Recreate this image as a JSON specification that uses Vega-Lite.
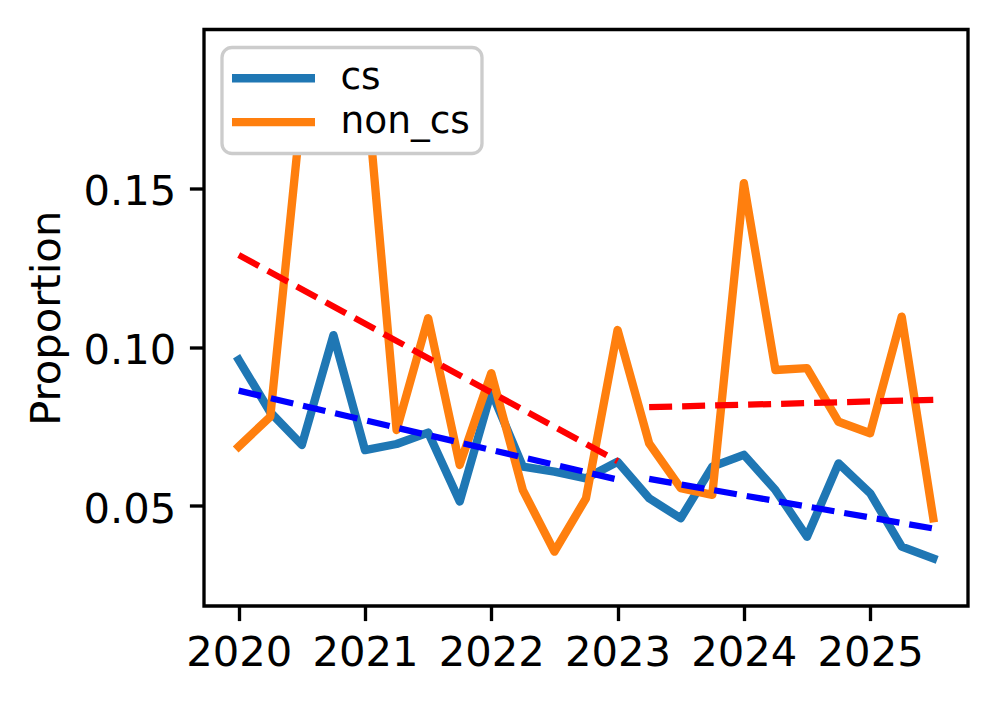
{
  "$schema": "https://vega.github.io/schema/vega-lite/v6.json",
  "autosize": {"type": "none"},
  "width": 764,
  "height": 576.5,
  "padding": {"left": 204, "top": 29.5, "right": 30, "bottom": 98},
  "background": "white",
  "datasets": {
    "series": [
      {"t": 2020.0, "series": "cs", "value": 0.0960},
      {"t": 2020.25, "series": "cs", "value": 0.0795},
      {"t": 2020.5, "series": "cs", "value": 0.0692},
      {"t": 2020.75, "series": "cs", "value": 0.1038},
      {"t": 2021.0, "series": "cs", "value": 0.0676},
      {"t": 2021.25, "series": "cs", "value": 0.0695},
      {"t": 2021.5, "series": "cs", "value": 0.0731},
      {"t": 2021.75, "series": "cs", "value": 0.0514},
      {"t": 2022.0, "series": "cs", "value": 0.0860},
      {"t": 2022.25, "series": "cs", "value": 0.0624},
      {"t": 2022.5, "series": "cs", "value": 0.0608},
      {"t": 2022.75, "series": "cs", "value": 0.0587},
      {"t": 2023.0, "series": "cs", "value": 0.0639},
      {"t": 2023.25, "series": "cs", "value": 0.0524},
      {"t": 2023.5, "series": "cs", "value": 0.0461},
      {"t": 2023.75, "series": "cs", "value": 0.0624},
      {"t": 2024.0, "series": "cs", "value": 0.0661},
      {"t": 2024.25, "series": "cs", "value": 0.0550},
      {"t": 2024.5, "series": "cs", "value": 0.0403},
      {"t": 2024.75, "series": "cs", "value": 0.0634},
      {"t": 2025.0, "series": "cs", "value": 0.0540},
      {"t": 2025.25, "series": "cs", "value": 0.0372},
      {"t": 2025.5, "series": "cs", "value": 0.0335},
      {"t": 2020.0, "series": "non_cs", "value": 0.0687},
      {"t": 2020.25, "series": "non_cs", "value": 0.0781},
      {"t": 2020.5, "series": "non_cs", "value": 0.176},
      {"t": 2020.75, "series": "non_cs", "value": 0.182},
      {"t": 2021.0, "series": "non_cs", "value": 0.187},
      {"t": 2021.25, "series": "non_cs", "value": 0.0739},
      {"t": 2021.5, "series": "non_cs", "value": 0.1091},
      {"t": 2021.75, "series": "non_cs", "value": 0.0629},
      {"t": 2022.0, "series": "non_cs", "value": 0.0918},
      {"t": 2022.25, "series": "non_cs", "value": 0.0550},
      {"t": 2022.5, "series": "non_cs", "value": 0.0356},
      {"t": 2022.75, "series": "non_cs", "value": 0.0524},
      {"t": 2023.0, "series": "non_cs", "value": 0.1054},
      {"t": 2023.25, "series": "non_cs", "value": 0.0697},
      {"t": 2023.5, "series": "non_cs", "value": 0.0556},
      {"t": 2023.75, "series": "non_cs", "value": 0.0535},
      {"t": 2024.0, "series": "non_cs", "value": 0.1516},
      {"t": 2024.25, "series": "non_cs", "value": 0.0928},
      {"t": 2024.5, "series": "non_cs", "value": 0.0934},
      {"t": 2024.75, "series": "non_cs", "value": 0.0765},
      {"t": 2025.0, "series": "non_cs", "value": 0.0729},
      {"t": 2025.25, "series": "non_cs", "value": 0.1096},
      {"t": 2025.5, "series": "non_cs", "value": 0.0461}
    ],
    "trend_non_cs": [
      {"t": 2020.0, "period": "pre", "value": 0.1290},
      {"t": 2023.0, "period": "pre", "value": 0.0641},
      {"t": 2023.25, "period": "post", "value": 0.0811},
      {"t": 2025.5, "period": "post", "value": 0.0834}
    ],
    "trend_cs": [
      {"t": 2020.0, "period": "pre", "value": 0.0863},
      {"t": 2023.0, "period": "pre", "value": 0.0583},
      {"t": 2023.25, "period": "post", "value": 0.0585},
      {"t": 2025.5, "period": "post", "value": 0.0429}
    ]
  },
  "layer": [
    {
      "data": {"name": "series"},
      "mark": {"type": "line", "strokeWidth": 8.33, "strokeJoin": "round", "strokeCap": "square", "clip": true},
      "encoding": {
        "x": {"field": "t", "type": "quantitative", "scale": {"domain": [2019.725, 2025.775], "nice": false, "zero": false},
              "axis": {"values": [2020, 2021, 2022, 2023, 2024, 2025], "format": "d", "title": null, "labelPadding": 12}},
        "y": {"field": "value", "type": "quantitative", "scale": {"domain": [0.0185, 0.2], "nice": false, "zero": false},
              "axis": {"values": [0.05, 0.1, 0.15], "format": ".2f", "title": "Proportion", "labelPadding": 13.5, "labelOffset": 3.5, "titlePadding": 15}},
        "color": {"field": "series", "type": "nominal",
                  "scale": {"domain": ["cs", "non_cs"], "range": ["#1f77b4", "#ff7f0e"]},
                  "legend": {"title": null, "orient": "top-left", "offset": 18, "symbolType": "M-2,0H6", "symbolSize": 430.6,
                             "symbolStrokeWidth": 8.33, "labelFontSize": 37.5, "labelFont": "DejaVu Sans", "labelColor": "black",
                             "labelOffset": 69, "fillColor": "white", "strokeColor": "#cccccc", "padding": 12,
                             "cornerRadius": 10, "rowPadding": 4.8,
                             "encode": {"legend": {"update": {"strokeWidth": {"value": 3.3}}}}}}
      }
    },
    {
      "data": {"name": "trend_non_cs"},
      "mark": {"type": "line", "stroke": "red", "strokeWidth": 6.25, "strokeDash": [23, 10], "clip": true},
      "encoding": {
        "x": {"field": "t", "type": "quantitative", "scale": {"domain": [2019.725, 2025.775], "nice": false, "zero": false}},
        "y": {"field": "value", "type": "quantitative", "scale": {"domain": [0.0185, 0.2], "nice": false, "zero": false}},
        "detail": {"field": "period", "type": "nominal"}
      }
    },
    {
      "data": {"name": "trend_cs"},
      "mark": {"type": "line", "stroke": "blue", "strokeWidth": 6.25, "strokeDash": [23, 10], "clip": true},
      "encoding": {
        "x": {"field": "t", "type": "quantitative", "scale": {"domain": [2019.725, 2025.775], "nice": false, "zero": false}},
        "y": {"field": "value", "type": "quantitative", "scale": {"domain": [0.0185, 0.2], "nice": false, "zero": false}},
        "detail": {"field": "period", "type": "nominal"}
      }
    },
    {
      "mark": {"type": "rule", "stroke": "#808080", "strokeWidth": 4.17, "strokeDash": [15.4, 6.7]},
      "encoding": {
        "x": {"datum": 2023, "type": "quantitative", "scale": {"domain": [2019.725, 2025.775], "nice": false, "zero": false}}
      }
    }
  ],
  "config": {
    "font": "DejaVu Sans",
    "view": {"stroke": "black", "strokeWidth": 3.33},
    "axis": {
      "domain": false, "grid": false,
      "tickColor": "black", "tickWidth": 3.33, "tickSize": 14.6,
      "labelColor": "black", "labelFont": "DejaVu Sans", "labelFontSize": 41.7,
      "titleFont": "DejaVu Sans", "titleFontSize": 41.7, "titleFontWeight": "normal", "titleColor": "black"
    }
  }
}
